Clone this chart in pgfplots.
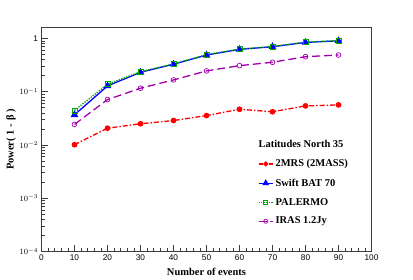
\documentclass[border=0pt]{standalone}
\usepackage{pgfplots}
\pgfplotsset{compat=1.18}
\usepackage{fontspec}
\setmainfont{Liberation Serif}
\newfontfamily\helv{Liberation Sans}
\definecolor{rred}{RGB}{255,0,0}
\definecolor{rblue}{RGB}{0,0,255}
\definecolor{rgreen}{RGB}{0,170,0}
\definecolor{rmag}{RGB}{160,0,170}
\definecolor{frame}{RGB}{60,60,60}
\begin{document}
\begin{tikzpicture}
\useasboundingbox (0,0) rectangle (413bp,280bp);
\begin{axis}[
  at={(41.5bp,28.5bp)}, anchor=south west,
  scale only axis, width=330bp, height=224bp,
  xmin=0, xmax=100, ymode=log, ymin=1e-4, ymax=1.6,
  xtick={0,10,...,100}, minor x tick num=4,
  ytick={1e-4,1e-3,1e-2,1e-1,1},
  yticklabels={$10^{-4}$,$10^{-3}$,$10^{-2}$,$10^{-1}$,1},
  tick align=inside, xtick pos=bottom, ytick pos=left,
  axis line style={frame, line width=0.8pt},
  every tick/.style={frame, line width=0.6pt},
  major tick length=7bp, minor tick length=3.5bp,
  tick label style={font=\helv\fontsize{8.3}{9}\selectfont},
  /pgf/number format/assume math mode=true,
  xlabel={\textbf{Number of events}},
  ylabel={\textbf{Power(\hspace{2bp}1\hspace{3.5bp}-\hspace{3.5bp}β\hspace{2bp})}},
  label style={font=\fontsize{10.5}{12}\selectfont},
  xlabel style={yshift=0bp},
  ylabel style={yshift=-3bp},
  legend style={draw=none, fill=none, at={(0.646,0.515)}, anchor=north west,
    font=\bfseries\fontsize{10.5}{12}\selectfont, row sep=6.5bp},
  legend cell align=left,
  legend image post style={scale=0.85},
  clip=false,
]
\addlegendimage{empty legend}
\addlegendentry{\hspace{-17bp}Latitudes North 35}
\addplot[rred, line width=1.3pt, dash pattern=on 5pt off 2pt on 1.5pt off 2pt, mark=*, mark size=2.2pt, mark options={solid}]
coordinates {(10,0.0101)(20,0.0206)(30,0.025)(40,0.0287)(50,0.0356)(60,0.0467)(70,0.042)(80,0.054)(90,0.0564)};
\addlegendentry{2MRS (2MASS)}
\addplot[rblue, line width=1.3pt, mark=triangle*, mark size=3.2pt]
coordinates {(10,0.0368)(20,0.128)(30,0.231)(40,0.327)(50,0.487)(60,0.622)(70,0.697)(80,0.84)(90,0.90)};
\addlegendentry{Swift BAT 70}
\addplot[rgreen, line width=1.3pt, dash pattern=on 1.3pt off 1.3pt, mark=square, mark size=2.4pt, mark options={solid, line width=0.7pt}]
coordinates {(10,0.0443)(20,0.138)(30,0.236)(40,0.333)(50,0.495)(60,0.63)(70,0.705)(80,0.85)(90,0.91)};
\addlegendentry{PALERMO}
\addplot[rmag, line width=1.3pt, dash pattern=on 8pt off 4pt, mark=o, mark size=2.4pt, mark options={solid, line width=0.7pt}]
coordinates {(10,0.0243)(20,0.0711)(30,0.116)(40,0.166)(50,0.245)(60,0.308)(70,0.356)(80,0.453)(90,0.487)};
\addlegendentry{IRAS 1.2Jy}
\end{axis}
\end{tikzpicture}
\end{document}
